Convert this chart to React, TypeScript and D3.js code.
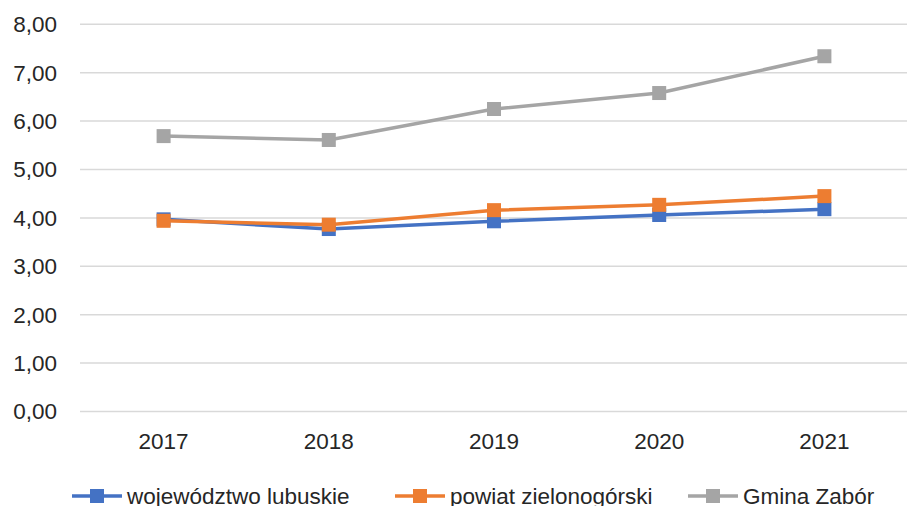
import React from "react";
import * as d3 from "d3";

const years = ["2017", "2018", "2019", "2020", "2021"];
const wojewodztwo = [3.97, 3.77, 3.93, 4.06, 4.18];
const powiat = [3.94, 3.86, 4.16, 4.27, 4.45];
const gmina = [5.69, 5.61, 6.25, 6.58, 7.34];
const yTicks = [0, 1, 2, 3, 4, 5, 6, 7, 8];
const seriesNames = ["województwo lubuskie", "powiat zielonogórski", "Gmina Zabór"];
const seriesColors = ["#4472C4", "#ED7D31", "#A5A5A5"];

const W = 910;
const H = 506;
const left = 81;
const right = 907;
const top = 24.3;
const bottom = 411.5;
const font = "'Liberation Sans', Arial, sans-serif";
const fs = 22.5;

export default function App() {
  const x = d3.scaleBand<string>().domain(years).range([left, right]);
  const y = d3.scaleLinear().domain([0, 8]).range([bottom, top]);
  const data = [wojewodztwo, powiat, gmina];
  const line = d3
    .line<number>()
    .x((_, i) => (x(years[i]) as number) + x.bandwidth() / 2)
    .y((d) => y(d));
  const legendX = [72, 395, 688];
  const legendY = 496;
  const ms = 14;
  return (
    <svg
      width={W}
      height={H}
      style={{ position: "absolute", left: 0, top: 0, background: "#fff" }}
      fontFamily={font}
    >
      {yTicks.map((t) => (
        <g key={t}>
          <line x1={left - 1} x2={right} y1={y(t)} y2={y(t)} stroke="#D9D9D9" strokeWidth={1.5} />
          <text x={57} y={y(t)} dy="0.35em" textAnchor="end" fontSize={fs} fill="#262626">
            {d3.format(".2f")(t).replace(".", ",")}
          </text>
        </g>
      ))}
      {years.map((yr) => (
        <text
          key={yr}
          x={(x(yr) as number) + x.bandwidth() / 2}
          y={441}
          dy="0.35em"
          textAnchor="middle"
          fontSize={fs}
          fill="#262626"
        >
          {yr}
        </text>
      ))}
      {data.map((s, si) => (
        <g key={si}>
          <path d={line(s) || ""} fill="none" stroke={seriesColors[si]} strokeWidth={3.5} />
          {s.map((v, i) => (
            <rect
              key={i}
              x={(x(years[i]) as number) + x.bandwidth() / 2 - ms / 2}
              y={y(v) - ms / 2}
              width={ms}
              height={ms}
              fill={seriesColors[si]}
            />
          ))}
        </g>
      ))}
      {seriesNames.map((n, i) => (
        <g key={n}>
          <line
            x1={legendX[i]}
            x2={legendX[i] + 50}
            y1={legendY}
            y2={legendY}
            stroke={seriesColors[i]}
            strokeWidth={3.5}
          />
          <rect x={legendX[i] + 25 - ms / 2} y={legendY - ms / 2} width={ms} height={ms} fill={seriesColors[i]} />
          <text x={legendX[i] + 55} y={legendY} dy="0.35em" fontSize={fs} fill="#262626">
            {n}
          </text>
        </g>
      ))}
    </svg>
  );
}
